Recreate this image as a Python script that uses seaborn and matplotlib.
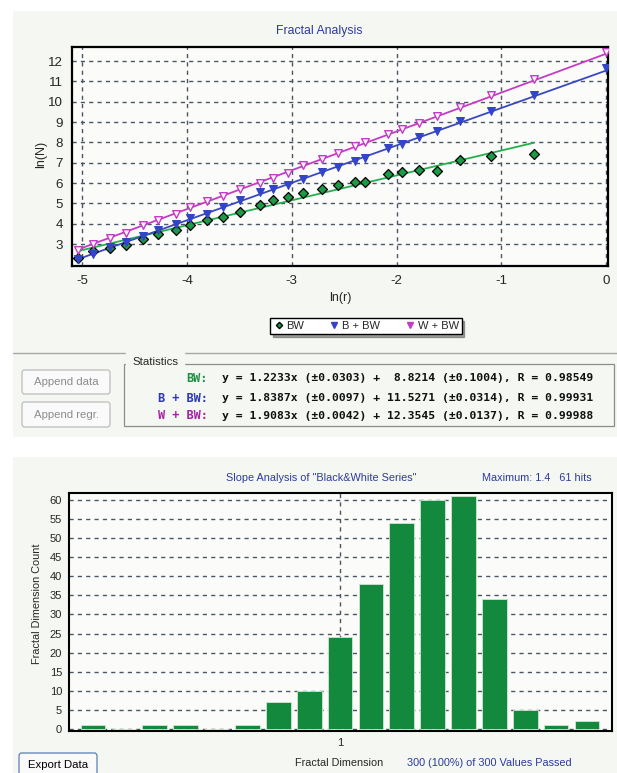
import matplotlib
matplotlib.use("Agg")
import matplotlib.pyplot as plt
import numpy as np
import pandas as pd
import seaborn as sns
from matplotlib.lines import Line2D
from matplotlib.patches import FancyBboxPatch, Rectangle

W, H = 617, 773

# box-counting data: ln(r) and ln(N) per series
LN_R = [-5.04, -4.90, -4.74, -4.58, -4.42, -4.28, -4.11, -3.97, -3.81, -3.66,
        -3.50, -3.30, -3.18, -3.04, -2.89, -2.71, -2.56, -2.40, -2.30, -2.08,
        -1.95, -1.79, -1.61, -1.39, -1.10, -0.69, 0.0]
BW = [2.30, 2.67, 2.79, 2.95, 3.23, 3.48, 3.69, 3.93, 4.18, 4.31,
      4.59, 4.92, 5.18, 5.30, 5.50, 5.72, 5.90, 6.05, 6.05, 6.45,
      6.55, 6.62, 6.60, 7.12, 7.33, 7.43]
B_BW = [2.25, 2.52, 2.84, 3.10, 3.40, 3.70, 4.00, 4.26, 4.50, 4.80,
        5.18, 5.55, 5.72, 5.90, 6.20, 6.55, 6.80, 7.08, 7.24, 7.70,
        7.90, 8.24, 8.56, 9.03, 9.56, 10.33, 11.65]
W_BW = [2.70, 3.00, 3.28, 3.56, 3.93, 4.18, 4.48, 4.84, 5.13, 5.38,
        5.70, 6.00, 6.26, 6.50, 6.88, 7.20, 7.50, 7.80, 8.00, 8.40,
        8.67, 8.95, 9.30, 9.73, 10.33, 11.12, 12.45]

SERIES = ["BW", "B + BW", "W + BW"]
SLOPE = [1.2233, 1.8387, 1.9083]
SLOPE_ERR = [0.0303, 0.0097, 0.0042]
INTERCEPT = [8.8214, 11.5271, 12.3545]
INTERCEPT_ERR = [0.1004, 0.0314, 0.0137]
R_VALUE = [0.98549, 0.99931, 0.99988]

# slope histogram
DIM_BINS = [0.2, 0.3, 0.4, 0.5, 0.6, 0.7, 0.8, 0.9, 1.0, 1.1, 1.2, 1.3, 1.4,
            1.5, 1.6, 1.7, 1.8]
DIM_COUNTS = [1, 0, 1, 1, 0, 1, 7, 10, 24, 38, 54, 60, 61, 34, 5, 1, 2]

LINE_COLORS = ["#22B14C", "#3A48C4", "#C43CC4"]
TEXT_COLORS = ["#1E9040", "#2C3AB4", "#A424A4"]
TITLE_BLUE = "#2D3A9E"
PANEL = "#F4F7F2"
GRID = dict(color="#4A5462", linestyle=(0, (3, 3)), linewidth=1.0)


def fx(x):
    return x / W


def fy(y):
    return 1 - y / H


def rect(fig, x0, y0, x1, y1, **kw):
    fig.patches.append(Rectangle((fx(x0), fy(y1)), fx(x1) - fx(x0), fy(y0) - fy(y1),
                                 transform=fig.transFigure, **kw))


def button(fig, x0, y0, x1, y1, label, edge, color):
    box = FancyBboxPatch((fx(x0), fy(y1)), fx(x1) - fx(x0), fy(y0) - fy(y1),
                         boxstyle="round,pad=0,rounding_size=0.004",
                         transform=fig.transFigure, facecolor="#FAFAFA",
                         edgecolor=edge, linewidth=0.9)
    fig.patches.append(box)
    fig.text(fx((x0 + x1) / 2), fy((y0 + y1) / 2), label, ha="center", va="center",
             fontsize=8.2, color=color)


def plot_fractal(fig):
    ax = fig.add_axes([fx(72), fy(266), fx(608) - fx(72), fy(47) - fy(266)])
    ax.set_facecolor("#FBFCFA")
    values = [BW, B_BW, W_BW]
    for i, name in enumerate(SERIES):
        xs = np.array(LN_R[:len(values[i])])
        fit = SLOPE[i] * xs + INTERCEPT[i]
        sns.lineplot(x=xs, y=fit, color=LINE_COLORS[i], linewidth=1.3, ax=ax, zorder=3)

    sns.scatterplot(x=LN_R[:len(BW)], y=BW, marker="D", s=26, color="#1D9A45",
                    edgecolor="black", linewidth=0.9, ax=ax, zorder=5)
    sns.scatterplot(x=LN_R, y=B_BW, marker="v", s=32, color="#3344C8",
                    edgecolor="#3344C8", linewidth=0.8, ax=ax, zorder=5)
    sns.scatterplot(x=LN_R, y=W_BW, marker="v", s=30, color="#FCF4FC",
                    edgecolor="#C43CC4", linewidth=1.0, ax=ax, zorder=5)

    ax.set_xlim(-5.1, 0.02)
    ax.set_ylim(1.92, 12.69)
    ax.set_xticks(range(-5, 1))
    ax.set_yticks(range(3, 13))
    ax.grid(True, **GRID)
    ax.tick_params(axis="both", labelsize=9.6, length=3, width=0.8, color="#444")
    for side in ax.spines.values():
        side.set_color("black")
        side.set_linewidth(1.6)
    ax.set_xlabel("")
    ax.set_ylabel("")

    fig.text(fx(319), fy(31), "Fractal Analysis", ha="center", va="center",
             fontsize=8.8, color=TITLE_BLUE)
    fig.text(fx(41), fy(154), "ln(N)", ha="center", va="center", rotation=90, fontsize=9)
    fig.text(fx(340), fy(298), "ln(r)", ha="center", va="center", fontsize=9)

    handles = [
        Line2D([], [], marker="D", linestyle="none", markersize=3.2,
               markerfacecolor="#1D9A45", markeredgecolor="black"),
        Line2D([], [], marker="v", linestyle="none", markersize=4.2,
               markerfacecolor="#3344C8", markeredgecolor="#3344C8"),
        Line2D([], [], marker="v", linestyle="none", markersize=4.2,
               markerfacecolor="#C43CC4", markeredgecolor="#C43CC4"),
    ]
    leg = fig.legend(handles, SERIES, loc="center", bbox_to_anchor=(fx(366), fy(326)),
                     ncol=3, fontsize=8, frameon=True, fancybox=False, shadow=True,
                     edgecolor="black", framealpha=1, borderpad=0.25,
                     handletextpad=0.2, columnspacing=2.2, handlelength=1.0)
    leg.get_frame().set_linewidth(1.0)


def plot_statistics(fig):
    rect(fig, 124, 364, 614, 426, facecolor="none", edgecolor="#8C8C8C", linewidth=0.9)
    fig.text(fx(132), fy(362), "Statistics", ha="left", va="center", fontsize=8.2,
             backgroundcolor=PANEL)
    rows_y = [378, 398, 416]
    for i, name in enumerate(SERIES):
        eq = (f"y = {SLOPE[i]:.4f}x (\u00b1{SLOPE_ERR[i]:.4f}) + "
              f"{INTERCEPT[i]:7.4f} (\u00b1{INTERCEPT_ERR[i]:.4f}), R = {R_VALUE[i]:.5f}")
        fig.text(fx(208), fy(rows_y[i]), name + ":", ha="right", va="center",
                 family="DejaVu Sans Mono", fontweight="bold", fontsize=8.6,
                 color=TEXT_COLORS[i])
        fig.text(fx(222), fy(rows_y[i]), eq, ha="left", va="center",
                 family="DejaVu Sans Mono", fontweight="bold", fontsize=8.2, color="#111")
    button(fig, 22, 370, 110, 394, "Append data", "#BDBDBD", "#8C8C8C")
    button(fig, 22, 402, 110, 427, "Append regr.", "#BDBDBD", "#8C8C8C")


def plot_slopes(fig):
    ax = fig.add_axes([fx(69), fy(731), fx(612) - fx(69), fy(493) - fy(731)])
    ax.set_facecolor("#FBFCFA")
    sns.barplot(x=DIM_BINS, y=DIM_COUNTS, native_scale=True, width=0.8, saturation=1,
                color="#12893C", edgecolor="#CFE6D2", linewidth=0.6, ax=ax, zorder=3)
    ax.set_xlim(0.122, 1.881)
    ax.set_ylim(-0.5, 61.8)
    ax.set_yticks(range(0, 61, 5))
    ax.set_xticks([1.0])
    ax.set_xticklabels(["1"])
    ax.grid(True, axis="y", **GRID)
    ax.axvline(1.0, zorder=1, **GRID)
    ax.tick_params(axis="both", labelsize=8, length=3, width=0.8, color="#444", pad=2)
    for side in ax.spines.values():
        side.set_color("black")
        side.set_linewidth(1.5)
    ax.set_xlabel("")
    ax.set_ylabel("")

    peak = int(np.argmax(DIM_COUNTS))
    total = sum(DIM_COUNTS)
    fig.text(fx(321), fy(478), 'Slope Analysis of "Black&White Series"', ha="center",
             va="center", fontsize=7.8, color=TITLE_BLUE)
    fig.text(fx(482), fy(478), f"Maximum: {DIM_BINS[peak]:.1f}   {DIM_COUNTS[peak]} hits",
             ha="left", va="center", fontsize=7.8, color=TITLE_BLUE)
    fig.text(fx(37), fy(604), "Fractal Dimension Count", ha="center", va="center",
             rotation=90, fontsize=7.8)
    fig.text(fx(339), fy(763), "Fractal Dimension", ha="center", va="center", fontsize=7.8)
    fig.text(fx(407), fy(763), f"{total} (100%) of {total} Values Passed", ha="left",
             va="center", fontsize=7.8, color=TITLE_BLUE)
    button(fig, 19, 753, 97, 776, "Export Data", "#5B7FB6", "black")


def main():
    sns.set_theme(style="white")
    plt.rcParams["font.family"] = ["Liberation Sans", "DejaVu Sans"]
    plt.rcParams["axes.unicode_minus"] = False
    fig = plt.figure(figsize=(W / 100, H / 100), dpi=100, facecolor="white")

    rect(fig, 13, 11, 617, 437, facecolor=PANEL, edgecolor="none", zorder=-10)
    rect(fig, 13, 457, 617, 773, facecolor=PANEL, edgecolor="none", zorder=-10)
    fig.lines.append(Line2D([fx(13), 1], [fy(353), fy(353)], transform=fig.transFigure,
                            color="#A8A8A8", linewidth=1.0, zorder=-5))

    plot_fractal(fig)
    plot_statistics(fig)
    plot_slopes(fig)
    fig.savefig("out.png", dpi=100, facecolor="white")


if __name__ == "__main__":
    main()
